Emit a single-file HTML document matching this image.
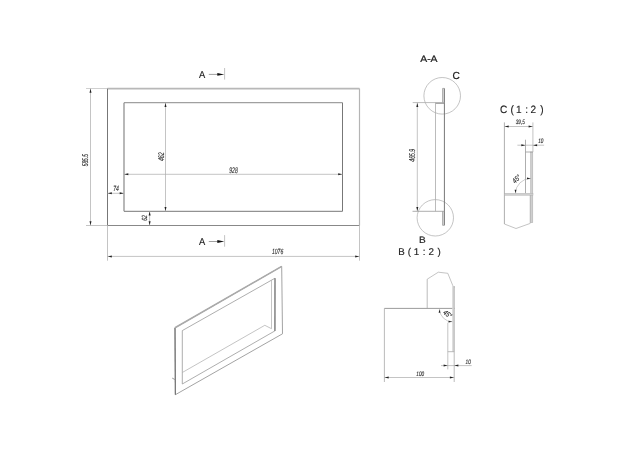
<!DOCTYPE html>
<html><head><meta charset="utf-8"><style>
html,body{margin:0;padding:0;background:#fff;}
body{width:627px;height:450px;overflow:hidden;position:relative;}
svg{position:absolute;left:0;top:0;font-family:"Liberation Sans",sans-serif;will-change:transform;text-rendering:geometricPrecision;}
</style></head><body>
<svg width="627" height="450" viewBox="0 0 627 450">
<rect width="627" height="450" fill="#fff"/>
<line x1="107.5" y1="88.6" x2="359.5" y2="88.6" stroke="#b8b8b8" stroke-width="1.6"/>
<line x1="107.5" y1="225.5" x2="359.5" y2="225.5" stroke="#888" stroke-width="1.0"/>
<line x1="107.5" y1="88.5" x2="107.5" y2="225.5" stroke="#777" stroke-width="1.0"/>
<line x1="359.5" y1="88.5" x2="359.5" y2="225.5" stroke="#b4b4b4" stroke-width="1.2"/>
<line x1="124" y1="102.7" x2="342.5" y2="102.7" stroke="#a0a0a0" stroke-width="1.2"/>
<line x1="124" y1="211.3" x2="342.5" y2="211.3" stroke="#777" stroke-width="1.0"/>
<line x1="124" y1="102.7" x2="124" y2="211.3" stroke="#888" stroke-width="1.2"/>
<line x1="342.5" y1="102.7" x2="342.5" y2="211.3" stroke="#777" stroke-width="1.0"/>
<line x1="86" y1="88.5" x2="107.5" y2="88.5" stroke="#bbb" stroke-width="0.7"/>
<line x1="86" y1="225.5" x2="107.5" y2="225.5" stroke="#aaa" stroke-width="0.7"/>
<line x1="90.5" y1="88.5" x2="90.5" y2="225.5" stroke="#aaa" stroke-width="0.7"/>
<polygon points="90.50,88.80 91.50,92.80 89.50,92.80" fill="#222"/>
<polygon points="90.50,225.20 89.50,221.20 91.50,221.20" fill="#222"/>
<text transform="translate(87.8,160.2) rotate(-90) scale(0.59,1)" font-size="8.3" fill="#333" text-anchor="middle" font-style="italic" stroke="#333" stroke-width="0.15" font-weight="normal">585.5</text>
<line x1="165.5" y1="102.7" x2="165.5" y2="211.3" stroke="#aaa" stroke-width="0.7"/>
<polygon points="165.50,103.00 166.50,107.00 164.50,107.00" fill="#222"/>
<polygon points="165.50,211.00 164.50,207.00 166.50,207.00" fill="#222"/>
<text transform="translate(163.6,156.7) rotate(-90) scale(0.62,1)" font-size="8.3" fill="#333" text-anchor="middle" font-style="italic" stroke="#333" stroke-width="0.15" font-weight="normal">462</text>
<line x1="124" y1="174.3" x2="342.5" y2="174.3" stroke="#aaa" stroke-width="0.7"/>
<polygon points="124.30,174.30 128.30,173.30 128.30,175.30" fill="#222"/>
<polygon points="342.20,174.30 338.20,175.30 338.20,173.30" fill="#222"/>
<text transform="translate(233.5,172.7) rotate(0) scale(0.62,1)" font-size="8.2" fill="#333" text-anchor="middle" font-style="italic" stroke="#333" stroke-width="0.15" font-weight="normal">928</text>
<line x1="107.5" y1="193.3" x2="124" y2="193.3" stroke="#aaa" stroke-width="0.7"/>
<polygon points="107.80,193.30 111.80,192.30 111.80,194.30" fill="#222"/>
<polygon points="123.70,193.30 119.70,194.30 119.70,192.30" fill="#222"/>
<text transform="translate(116,191.2) rotate(0) scale(0.68,1)" font-size="7.5" fill="#333" text-anchor="middle" font-style="italic" stroke="#333" stroke-width="0.15" font-weight="normal">74</text>
<line x1="149.6" y1="211.3" x2="149.6" y2="225.5" stroke="#aaa" stroke-width="0.7"/>
<polygon points="149.60,211.60 150.60,215.60 148.60,215.60" fill="#222"/>
<polygon points="149.60,225.20 148.60,221.20 150.60,221.20" fill="#222"/>
<text transform="translate(146.8,218) rotate(-90) scale(0.68,1)" font-size="7.5" fill="#333" text-anchor="middle" font-style="italic" stroke="#333" stroke-width="0.15" font-weight="normal">62</text>
<line x1="107.5" y1="225.5" x2="107.5" y2="260.7" stroke="#aaa" stroke-width="0.7"/>
<line x1="359.5" y1="225.5" x2="359.5" y2="260.7" stroke="#aaa" stroke-width="0.7"/>
<line x1="107.5" y1="256.4" x2="359.5" y2="256.4" stroke="#aaa" stroke-width="0.7"/>
<polygon points="107.80,256.40 111.80,255.40 111.80,257.40" fill="#222"/>
<polygon points="359.20,256.40 355.20,257.40 355.20,255.40" fill="#222"/>
<text transform="translate(277.6,253.8) rotate(0) scale(0.68,1)" font-size="7.5" fill="#333" text-anchor="middle" font-style="italic" stroke="#333" stroke-width="0.15" font-weight="normal">1076</text>
<text transform="translate(199.1,78.0) rotate(0) scale(0.93,1)" font-size="10" fill="#222" text-anchor="start" stroke="#222" stroke-width="0.15" font-weight="normal">A</text>
<line x1="208.8" y1="74.4" x2="220" y2="74.4" stroke="#888" stroke-width="0.8"/>
<polygon points="224.30,74.40 217.30,75.80 217.30,73.00" fill="#111"/>
<line x1="224.6" y1="68.0" x2="224.6" y2="79.60000000000001" stroke="#aaa" stroke-width="0.7"/>
<text transform="translate(199.1,245.1) rotate(0) scale(0.93,1)" font-size="10" fill="#222" text-anchor="start" stroke="#222" stroke-width="0.15" font-weight="normal">A</text>
<line x1="208.8" y1="241.5" x2="220" y2="241.5" stroke="#888" stroke-width="0.8"/>
<polygon points="224.30,241.50 217.30,242.90 217.30,240.10" fill="#111"/>
<line x1="224.6" y1="235.1" x2="224.6" y2="246.7" stroke="#aaa" stroke-width="0.7"/>
<text transform="translate(420.2,62) rotate(0) scale(1.12,1)" font-size="9.3" fill="#222" text-anchor="start" stroke="#222" stroke-width="0.2" font-weight="normal">A-A</text>
<text transform="translate(452.4,78.9) rotate(0) scale(1.0,1)" font-size="10.2" fill="#222" text-anchor="start" stroke="#222" stroke-width="0.2" font-weight="normal">C</text>
<circle cx="442.2" cy="95.8" r="18.3" fill="none" stroke="#aaa" stroke-width="0.7"/>
<circle cx="435.3" cy="217.8" r="18.2" fill="none" stroke="#aaa" stroke-width="0.7"/>
<rect x="442.6" y="88.4" width="1.8" height="14.2" fill="#ddd"/>
<rect x="442.6" y="211.3" width="1.8" height="14" fill="#ddd"/>
<line x1="444.4" y1="88.4" x2="444.4" y2="225.3" stroke="#777" stroke-width="1.0"/>
<line x1="442.6" y1="88.4" x2="442.6" y2="102.6" stroke="#999" stroke-width="0.8"/>
<line x1="442.6" y1="211.3" x2="442.6" y2="225.3" stroke="#999" stroke-width="0.8"/>
<line x1="442.6" y1="88.4" x2="444.4" y2="88.4" stroke="#999" stroke-width="0.8"/>
<line x1="442.6" y1="225.3" x2="444.4" y2="225.3" stroke="#999" stroke-width="0.8"/>
<line x1="412.7" y1="102.6" x2="444.4" y2="102.6" stroke="#aaa" stroke-width="0.8"/>
<line x1="435.5" y1="103.3" x2="444.4" y2="103.3" stroke="#888" stroke-width="0.9"/>
<line x1="412.5" y1="211.3" x2="444.4" y2="211.3" stroke="#999" stroke-width="0.8"/>
<line x1="435.5" y1="102.6" x2="435.5" y2="211.3" stroke="#aaa" stroke-width="0.8"/>
<line x1="417.3" y1="102.6" x2="417.3" y2="211.3" stroke="#aaa" stroke-width="0.7"/>
<polygon points="417.30,102.90 418.30,106.90 416.30,106.90" fill="#222"/>
<polygon points="417.30,211.00 416.30,207.00 418.30,207.00" fill="#222"/>
<text transform="translate(415.4,155.3) rotate(-90) scale(0.6,1)" font-size="8.5" fill="#333" text-anchor="middle" font-style="italic" stroke="#333" stroke-width="0.15" font-weight="normal">465.9</text>
<text transform="translate(418.9,242.8) rotate(0) scale(1.08,1)" font-size="9.3" fill="#222" text-anchor="start" stroke="#222" stroke-width="0.2" font-weight="normal">B</text>
<text transform="translate(398.3,254.7) rotate(0) scale(1.0,1)" font-size="9.8" fill="#222" text-anchor="start" stroke="#222" stroke-width="0.15" font-weight="normal">B</text>
<text transform="translate(407.8,254.7) rotate(0) scale(1.0,1)" font-size="9.8" fill="#222" text-anchor="start" stroke="#222" stroke-width="0.15" font-weight="normal">(</text>
<text transform="translate(413.8,254.7) rotate(0) scale(1.0,1)" font-size="9.8" fill="#222" text-anchor="start" stroke="#222" stroke-width="0.15" font-weight="normal">1</text>
<text transform="translate(422.8,254.7) rotate(0) scale(1.0,1)" font-size="9.8" fill="#222" text-anchor="start" stroke="#222" stroke-width="0.15" font-weight="normal">:</text>
<text transform="translate(428.4,254.7) rotate(0) scale(1.0,1)" font-size="9.8" fill="#222" text-anchor="start" stroke="#222" stroke-width="0.15" font-weight="normal">2</text>
<text transform="translate(437.6,254.7) rotate(0) scale(1.0,1)" font-size="9.8" fill="#222" text-anchor="start" stroke="#222" stroke-width="0.15" font-weight="normal">)</text>
<text transform="translate(499.9,112.9) rotate(0) scale(0.95,1)" font-size="10.6" fill="#222" text-anchor="start" stroke="#222" stroke-width="0.15" font-weight="normal">C</text>
<text transform="translate(510.4,112.9) rotate(0) scale(0.95,1)" font-size="10.6" fill="#222" text-anchor="start" stroke="#222" stroke-width="0.15" font-weight="normal">(</text>
<text transform="translate(515.9,112.9) rotate(0) scale(0.95,1)" font-size="10.6" fill="#222" text-anchor="start" stroke="#222" stroke-width="0.15" font-weight="normal">1</text>
<text transform="translate(525.3,112.9) rotate(0) scale(0.95,1)" font-size="10.6" fill="#222" text-anchor="start" stroke="#222" stroke-width="0.15" font-weight="normal">:</text>
<text transform="translate(530.5,112.9) rotate(0) scale(0.95,1)" font-size="10.6" fill="#222" text-anchor="start" stroke="#222" stroke-width="0.15" font-weight="normal">2</text>
<text transform="translate(540.2,112.9) rotate(0) scale(0.95,1)" font-size="10.6" fill="#222" text-anchor="start" stroke="#222" stroke-width="0.15" font-weight="normal">)</text>
<line x1="504.4" y1="122.4" x2="504.4" y2="224" stroke="#999" stroke-width="0.8"/>
<line x1="532.9" y1="122.4" x2="532.9" y2="152" stroke="#aaa" stroke-width="0.7"/>
<line x1="504.4" y1="126.5" x2="532.9" y2="126.5" stroke="#aaa" stroke-width="0.7"/>
<polygon points="504.70,126.50 508.70,125.50 508.70,127.50" fill="#222"/>
<polygon points="532.60,126.50 528.60,127.50 528.60,125.50" fill="#222"/>
<text transform="translate(520.3,123.5) rotate(0) scale(0.72,1)" font-size="6.5" fill="#333" text-anchor="middle" font-style="italic" stroke="#333" stroke-width="0.15" font-weight="normal">39,5</text>
<line x1="517.4" y1="145.2" x2="544.1" y2="145.2" stroke="#aaa" stroke-width="0.7"/>
<polygon points="525.30,145.20 521.30,146.20 521.30,144.20" fill="#222"/>
<polygon points="533.10,145.20 537.10,144.20 537.10,146.20" fill="#222"/>
<text transform="translate(540.8,143.2) rotate(0) scale(0.72,1)" font-size="6.5" fill="#333" text-anchor="middle" font-style="italic" stroke="#333" stroke-width="0.15" font-weight="normal">10</text>
<line x1="525.5" y1="139.7" x2="525.5" y2="193.3" stroke="#999" stroke-width="0.8"/>
<rect x="530.6" y="152" width="2.2" height="70.7" fill="#cfcfcf" stroke="#aaa" stroke-width="0.5"/>
<line x1="525.5" y1="152" x2="532.8" y2="152" stroke="#999" stroke-width="0.8"/>
<rect x="504.5" y="193.3" width="28.5" height="2" fill="#cfcfcf" stroke="#aaa" stroke-width="0.4"/>
<line x1="530.2" y1="195.2" x2="530.2" y2="223" stroke="#aaa" stroke-width="0.7"/>
<polyline points="504.40,224.00 516.00,228.50 530.50,223.30" fill="none" stroke="#aaa" stroke-width="0.7"/>
<path d="M515.5,193.2 A15,15 0 0 1 530.5,178.5" fill="none" stroke="#aaa" stroke-width="0.6"/>
<polygon points="515.50,193.20 514.60,189.70 516.40,189.70" fill="#222"/>
<polygon points="530.80,178.40 527.00,179.30 527.00,177.50" fill="#222"/>
<text transform="translate(518.2,180.6) rotate(-45) scale(0.8,1)" font-size="7.2" fill="#333" text-anchor="middle" font-style="italic" stroke="#333" stroke-width="0.15" font-weight="normal">45°</text>
<line x1="384.4" y1="308.4" x2="454.6" y2="308.4" stroke="#909090" stroke-width="0.9"/>
<line x1="384.4" y1="308.3" x2="384.4" y2="382" stroke="#aaa" stroke-width="0.8"/>
<line x1="427.2" y1="279.2" x2="427.2" y2="308.3" stroke="#aaa" stroke-width="0.8"/>
<polyline points="427.20,279.20 438.30,272.20 447.80,273.30 452.80,285.60 454.50,287.50" fill="none" stroke="#aaa" stroke-width="0.7"/>
<rect x="452.2" y="286" width="2.2" height="65.7" fill="#d6d6d6"/>
<line x1="454.2" y1="286" x2="454.2" y2="382" stroke="#aaa" stroke-width="0.8"/>
<line x1="447.8" y1="322.8" x2="447.8" y2="369.4" stroke="#aaa" stroke-width="0.7"/>
<line x1="447.8" y1="351.7" x2="454.2" y2="351.7" stroke="#aaa" stroke-width="0.8"/>
<path d="M439.5,309.2 A13,13 0 0 0 452.3,321.8" fill="none" stroke="#aaa" stroke-width="0.6"/>
<polygon points="439.50,309.20 440.40,312.70 438.60,312.70" fill="#222"/>
<polygon points="452.30,321.80 448.46,322.51 448.55,320.71" fill="#222"/>
<text transform="translate(446.2,316.0) rotate(40) scale(0.8,1)" font-size="7.2" fill="#333" text-anchor="middle" font-style="italic" stroke="#333" stroke-width="0.15" font-weight="normal">45°</text>
<line x1="441" y1="365.6" x2="471.7" y2="365.6" stroke="#aaa" stroke-width="0.7"/>
<polygon points="447.60,365.60 443.60,366.60 443.60,364.60" fill="#222"/>
<polygon points="454.40,365.60 458.40,364.60 458.40,366.60" fill="#222"/>
<text transform="translate(468.2,363.6) rotate(0) scale(0.72,1)" font-size="6.5" fill="#333" text-anchor="middle" font-style="italic" stroke="#333" stroke-width="0.15" font-weight="normal">10</text>
<line x1="384.4" y1="377.5" x2="454.2" y2="377.5" stroke="#aaa" stroke-width="0.7"/>
<polygon points="384.70,377.50 388.70,376.50 388.70,378.50" fill="#222"/>
<polygon points="453.90,377.50 449.90,378.50 449.90,376.50" fill="#222"/>
<text transform="translate(420.2,375.6) rotate(0) scale(0.72,1)" font-size="6.5" fill="#333" text-anchor="middle" font-style="italic" stroke="#333" stroke-width="0.15" font-weight="normal">100</text>
<polygon points="175.00,327.80 281.70,266.40 282.50,333.80 175.40,394.70" fill="none" stroke="#999" stroke-width="0.9"/>
<line x1="175" y1="327.8" x2="175.4" y2="394.7" stroke="#777" stroke-width="1.2"/>
<line x1="175" y1="327.8" x2="281.7" y2="266.4" stroke="#aaa" stroke-width="1.6"/>
<polygon points="182.30,330.60 275.00,278.20 274.90,330.90 182.30,384.00" fill="none" stroke="#999" stroke-width="0.8"/>
<line x1="275" y1="278.2" x2="274.9" y2="330.9" stroke="#888" stroke-width="1.4"/>
<line x1="271.5" y1="280.2" x2="271.5" y2="328.7" stroke="#aaa" stroke-width="0.7"/>
<polyline points="182.30,372.50 264.80,325.30 271.50,328.70" fill="none" stroke="#aaa" stroke-width="0.7"/>
<line x1="172.2" y1="378.1" x2="175" y2="379.6" stroke="#999" stroke-width="1.0"/>
</svg>
</body></html>
